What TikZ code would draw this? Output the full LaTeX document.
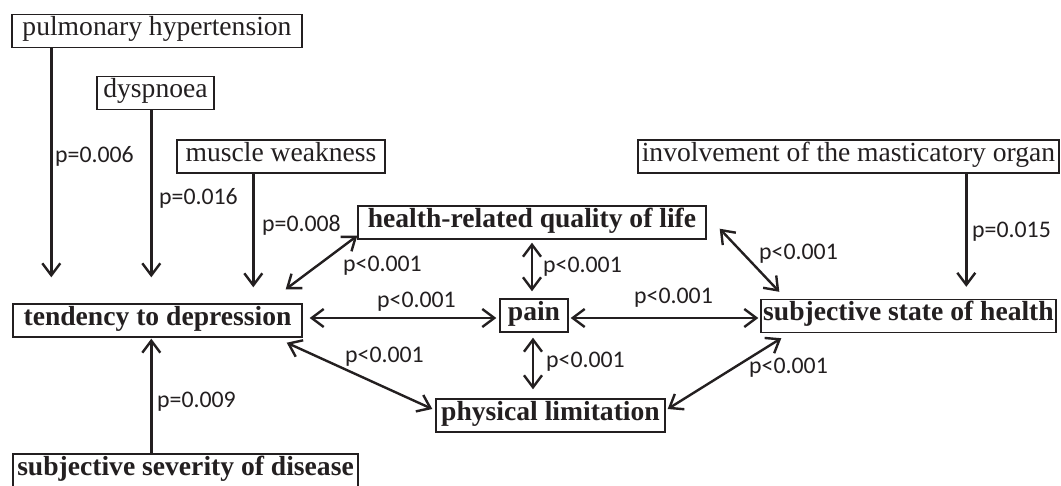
\documentclass[tikz,border=0pt]{standalone}
\usepackage{fontspec}
\setmainfont{Liberation Serif}
\newfontfamily\pfont{Carlito}
\usetikzlibrary{arrows.meta,calc}
\definecolor{ink}{RGB}{35,31,32}
\tikzset{
  box/.style={draw=ink, line width=1.4pt, inner sep=0pt, text height=21pt, text depth=12pt,
    font=\fontsize{27.6}{30}\selectfont, text=ink, anchor=center},
  bbox/.style={box, font=\fontsize{27.6}{30}\selectfont\bfseries},
  tip/.style={},
  arr/.style={draw=ink, line width=2.4pt, -{Straight Barb[length=12pt,width=18pt,line width=2.4pt]}},
  darr/.style={draw=ink, line width=2.4pt, {Straight Barb[length=12pt,width=18pt,line width=2.4pt]}-{Straight Barb[length=12pt,width=18pt,line width=2.4pt]}},
  plab/.style={anchor=base west, inner sep=0pt, text=ink, font=\pfont\fontsize{23.8}{26}\selectfont}
}
\begin{document}
\begin{tikzpicture}[x=1pt,y=-1pt]
\useasboundingbox[fill=white] (0,0) rectangle (1061,485);
% nodes
\node[box, minimum width=290pt] (pulm) at (157,31) {pulmonary hypertension};
\node[box, minimum width=117pt] (dysp) at (155.5,93) {dyspnoea};
\node[box, minimum width=208pt] (musc) at (281,156.5) {muscle weakness};
\node[box, minimum width=421pt] (invol) at (848.5,156.5) {involvement of the masticatory organ};
\node[bbox, minimum width=348pt] (hrql) at (532,222.5) {health-related quality of life};
\node[bbox, minimum width=289pt] (tend) at (157.5,320.5) {tendency to depression};
\node[bbox, minimum width=68pt] (pain) at (534,315.5) {pain};
\node[bbox, minimum width=295pt] (subj) at (908.5,316) {subjective state of health};
\node[bbox, minimum width=229pt] (phys) at (550.5,415.5) {physical limitation};
\node[bbox, minimum width=345pt] (sev) at (185.5,470.5) {subjective severity of disease};
% one-way arrows
\draw[arr] ($(pulm.south west)+(40,0)$) -- ($(tend.north west)+(39,-26)$);
\draw[arr] ($(dysp.south west)+(55,0)$) -- ($(tend.north west)+(139,-26)$);
\draw[arr] ($(musc.south west)+(77,0)$) -- ($(tend.north west)+(241,-16)$);
\draw[arr] ($(invol.south west)+(329,0)$) -- ($(subj.north west)+(206,-12)$);
\draw[arr] ($(sev.north west)+(139,0)$) -- ($(tend.south west)+(139,1)$);
% two-way arrows
\draw[darr] ($(tend.north east)+(-17,-14)$) -- ($(hrql.south west)+(0,-4)$);
\draw[darr] ($(tend.east)+(7,-2.5)$) -- ($(pain.west)+(-3,2.5)$);
\draw[darr] ($(tend.south east)+(-16,5)$) -- ($(phys.west)+(-3,-6.5)$);
\draw[darr] ($(hrql.south)+(0,3)$) -- ($(pain.north)+(-2,-7)$);
\draw[darr] ($(hrql.south east)+(13,-11)$) -- ($(subj.north west)+(19,-7)$);
\draw[darr] ($(pain.east)+(2,2.5)$) -- ($(subj.west)+(-2,2)$);
\draw[darr] ($(pain.south)+(-1,5)$) -- ($(phys.north)+(-17.5,-9)$);
\draw[darr] ($(phys.east)+(2,-6.5)$) -- ($(subj.south west)+(21,5)$);
% labels
\node[plab] (l1) at (55,162) {p=0.006};
\node[plab] (l2) at (159,204) {p=0.016};
\node[plab] (l3) at (262,231) {p=0.008};
\node[plab] (l4) at (343,271) {p<0.001};
\node[plab] (l5) at (377,307) {p<0.001};
\node[plab] (l6) at (345,362) {p<0.001};
\node[plab] (l7) at (157,407) {p=0.009};
\node[plab] (l8) at (543,272) {p<0.001};
\node[plab] (l9) at (634,303) {p<0.001};
\node[plab] (l10) at (759,259) {p<0.001};
\node[plab] (l11) at (972,237) {p=0.015};
\node[plab] (l12) at (546,367) {p<0.001};
\node[plab] (l13) at (749,373) {p<0.001};
\end{tikzpicture}
\end{document}
